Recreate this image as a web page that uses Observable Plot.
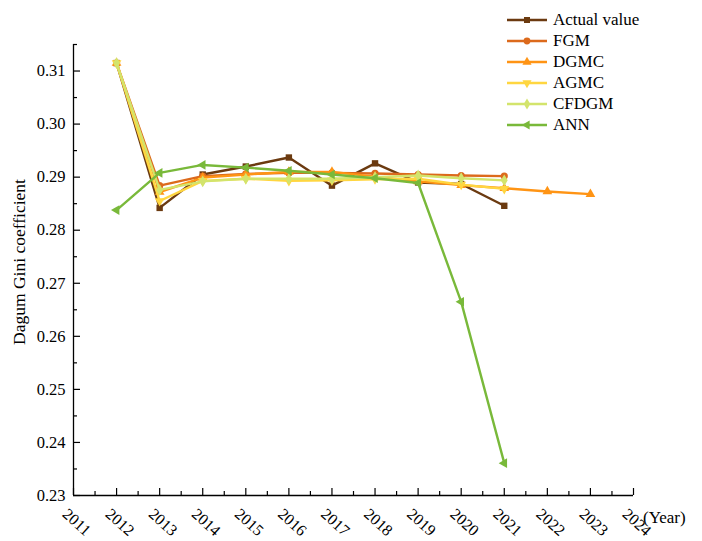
<!DOCTYPE html>
<html>
<head>
<meta charset="utf-8">
<script src="https://cdn.jsdelivr.net/npm/d3@7"></script>
<script src="https://cdn.jsdelivr.net/npm/@observablehq/plot@0.6"></script>
<style>
  body { margin: 0; background: #fff; }
  #wrap { position: relative; width: 702px; height: 541px; font-family: "Liberation Serif", "Times New Roman", serif; color: #000; }
  #legend { position: absolute; left: 506px; top: 9px; }
  .row { display: flex; align-items: center; height: 21px; font-size: 17px; white-space: nowrap; }
  .row svg { margin-right: 5px; }
  #year { position: absolute; left: 643px; top: 508px; font-size: 17px; white-space: nowrap; }
  #ylab { position: absolute; left: 19px; top: 262px; font-size: 17.5px; white-space: nowrap; transform: translate(-50%, -50%) rotate(-90deg); }
</style>
</head>
<body>
<div id="wrap">
  <div id="chart"></div>
  <div id="legend"></div>
  <div id="ylab">Dagum Gini coefficient</div>
  <div id="year">(Year)</div>
</div>
<script>
// ---- data ----
const years = [2012, 2013, 2014, 2015, 2016, 2017, 2018, 2019, 2020, 2021];
const yearsDGMC = [2012, 2013, 2014, 2015, 2016, 2017, 2018, 2019, 2020, 2021, 2022, 2023];
const actualValue = [0.3115, 0.2842, 0.2905, 0.2920, 0.2937, 0.2884, 0.2926, 0.2890, 0.2887, 0.2846];
const fgm   = [0.3115, 0.2884, 0.2902, 0.2906, 0.2908, 0.2908, 0.2907, 0.2905, 0.2903, 0.2902];
const dgmc  = [0.3115, 0.2872, 0.2899, 0.2905, 0.2910, 0.2910, 0.2901, 0.2892, 0.2885, 0.2879, 0.2873, 0.2868];
const agmc  = [0.3115, 0.2855, 0.2893, 0.2897, 0.2893, 0.2894, 0.2896, 0.2897, 0.2886, 0.2878];
const cfdgm = [0.3115, 0.2876, 0.2892, 0.2897, 0.2897, 0.2897, 0.2900, 0.2903, 0.2898, 0.2894];
const ann   = [0.2838, 0.2908, 0.2923, 0.2918, 0.2912, 0.2905, 0.2898, 0.2889, 0.2665, 0.2361];
const seriesNames = ["Actual value", "FGM", "DGMC", "AGMC", "CFDGM", "ANN"];
const xTicks = [2011, 2012, 2013, 2014, 2015, 2016, 2017, 2018, 2019, 2020, 2021, 2022, 2023, 2024];
const xMinor = [2011.5, 2012.5, 2013.5, 2014.5, 2015.5, 2016.5, 2017.5, 2018.5, 2019.5, 2020.5, 2021.5, 2022.5, 2023.5];
const yTicks = [0.23, 0.24, 0.25, 0.26, 0.27, 0.28, 0.29, 0.30, 0.31];
const yMinor = [0.235, 0.245, 0.255, 0.265, 0.275, 0.285, 0.295, 0.305, 0.315];

// ---- symbols ----
const s3 = Math.sqrt(3);
const triDown = { draw(ctx, size) { const y = -Math.sqrt(size / (s3 * 3)); ctx.moveTo(0, -y * 2); ctx.lineTo(-s3 * y, y); ctx.lineTo(s3 * y, y); ctx.closePath(); } };
const triLeft = { draw(ctx, size) { const y = -Math.sqrt(size / (s3 * 3)); ctx.moveTo(y * 2, 0); ctx.lineTo(-y, -s3 * y); ctx.lineTo(-y, s3 * y); ctx.closePath(); } };

const colors = ["#6B3A10", "#DC6A1C", "#FF9414", "#FFD640", "#D3E46C", "#79B93A"];
const symbols = [d3.symbolSquare, d3.symbolCircle, d3.symbolTriangle, triDown, d3.symbolDiamond, triLeft];
const xs = [years, years, yearsDGMC, years, years, years];
const vals = [actualValue, fgm, dgmc, agmc, cfdgm, ann];

const series = seriesNames.map((name, k) => ({
  name, color: colors[k], symbol: symbols[k],
  rows: vals[k].map((v, i) => ({ year: xs[k][i], value: v }))
}));

const W = 702, H = 541, mL = 73, mR = 69, mT = 44, mB = 46;
const pw = W - mL - mR, ph = H - mT - mB;

const marks = [
  Plot.ruleX([2011], { stroke: "#000", strokeWidth: 1.3 }),
  Plot.ruleY([0.23], { stroke: "#000", strokeWidth: 1.3 }),
  Plot.tickY(yTicks, { y: d => d, insetRight: pw - 7, stroke: "#000", strokeWidth: 1.2 }),
  Plot.tickY(yMinor, { y: d => d, insetRight: pw - 4, stroke: "#000", strokeWidth: 1.2 }),
  Plot.tickX(xTicks, { x: d => d, insetTop: ph - 7, stroke: "#000", strokeWidth: 1.2 }),
  Plot.tickX(xMinor, { x: d => d, insetTop: ph - 4, stroke: "#000", strokeWidth: 1.2 }),
  Plot.text(yTicks, { y: d => d, frameAnchor: "left", textAnchor: "end", dx: -8, text: d => d.toFixed(2), fontSize: 16.5, fill: "#000" }),
  Plot.text(xTicks, { x: d => d, frameAnchor: "bottom", textAnchor: "start", rotate: 42, dx: -12, dy: 20, text: d => String(d), fontSize: 16, fill: "#000" })
];
for (const s of series) {
  marks.push(Plot.line(s.rows, { x: "year", y: "value", stroke: s.color, strokeWidth: 2.4 }));
  marks.push(Plot.dot(s.rows, { x: "year", y: "value", symbol: s.symbol, r: 3.6, fill: s.color, stroke: "none" }));
}

const chart = Plot.plot({
  width: W, height: H,
  marginLeft: mL, marginRight: mR, marginTop: mT, marginBottom: mB,
  x: { domain: [2011, 2024], axis: null },
  y: { domain: [0.23, 0.315], axis: null },
  style: { fontFamily: "Liberation Serif, Times New Roman, serif", background: "#fff", overflow: "visible" },
  marks
});
document.getElementById("chart").appendChild(chart);

// ---- legend ----
const legend = document.getElementById("legend");
for (const s of series) {
  const row = document.createElement("div");
  row.className = "row";
  const svg = d3.create("svg").attr("width", 42).attr("height", 14);
  svg.append("line").attr("x1", 1).attr("x2", 41).attr("y1", 7).attr("y2", 7).attr("stroke", s.color).attr("stroke-width", 2.4);
  svg.append("path").attr("transform", "translate(21,7)").attr("d", d3.symbol(s.symbol, Math.PI * 3.4 * 3.4)()).attr("fill", s.color);
  row.appendChild(svg.node());
  const span = document.createElement("span");
  span.textContent = s.name;
  row.appendChild(span);
  legend.appendChild(row);
}
</script>
</body>
</html>
